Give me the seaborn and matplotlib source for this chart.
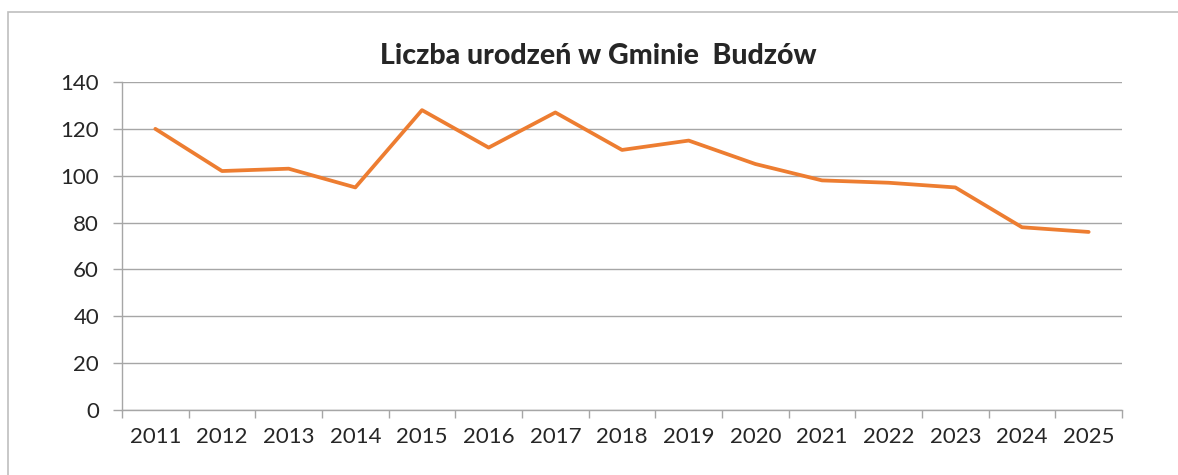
import matplotlib
matplotlib.use("Agg")
import matplotlib.pyplot as plt
import seaborn as sns
import pandas as pd
from matplotlib.patches import Rectangle
from matplotlib.ticker import FixedLocator

years = ["2011", "2012", "2013", "2014", "2015", "2016", "2017", "2018",
         "2019", "2020", "2021", "2022", "2023", "2024", "2025"]
births = [120, 102, 103, 95, 128, 112, 127, 111, 115, 105, 98, 97, 95, 78, 76]
title = "Liczba urodzeń w Gminie  Budzów"

sns.set_style("white")
plt.rcParams['font.family'] = ['Lato', 'DejaVu Sans']

W, H = 1178, 475
fig = plt.figure(figsize=(W / 100, H / 100), dpi=100)
fig.patches.append(Rectangle((8 / W, -0.1), 1.2, (H - 12) / H + 0.1,
                             transform=fig.transFigure, fill=False,
                             edgecolor="#BFBFBF", linewidth=1.2))

ax = fig.add_axes([122 / W, (H - 410) / H, 1000 / W, 328 / H])
df = pd.DataFrame({"year": years, "births": births})
sns.lineplot(data=df, x="year", y="births", ax=ax, color="#ED7D31",
             linewidth=2.7, sort=False)

ax.set_xlim(-0.5, len(years) - 0.5)
ax.set_ylim(0, 140)
ax.set_yticks(range(0, 141, 20))
ax.set_xlabel("")
ax.set_ylabel("")
ax.grid(axis="y", color="#A6A6A6", linewidth=1.0)
ax.set_axisbelow(True)
for s in ["top", "right"]:
    ax.spines[s].set_visible(False)
for s in ["left", "bottom"]:
    ax.spines[s].set_color("#A6A6A6")
    ax.spines[s].set_linewidth(1.0)

ax.set_xticks(range(len(years)))
ax.set_xticklabels(years)
ax.xaxis.set_minor_locator(FixedLocator([i - 0.5 for i in range(len(years) + 1)]))
ax.tick_params(axis="x", which="major", length=0, pad=12, labelsize=16)
ax.tick_params(axis="x", which="minor", length=6, color="#A6A6A6", width=1.0, bottom=True)
ax.tick_params(axis="y", which="major", length=6.5, color="#A6A6A6", width=1.0,
               pad=10, labelsize=16, left=True)

fig.text(598 / W, 1 - 56 / H, title, ha="center", va="center",
         fontsize=20.5, fontweight="black")

fig.savefig("out.png", dpi=100)
